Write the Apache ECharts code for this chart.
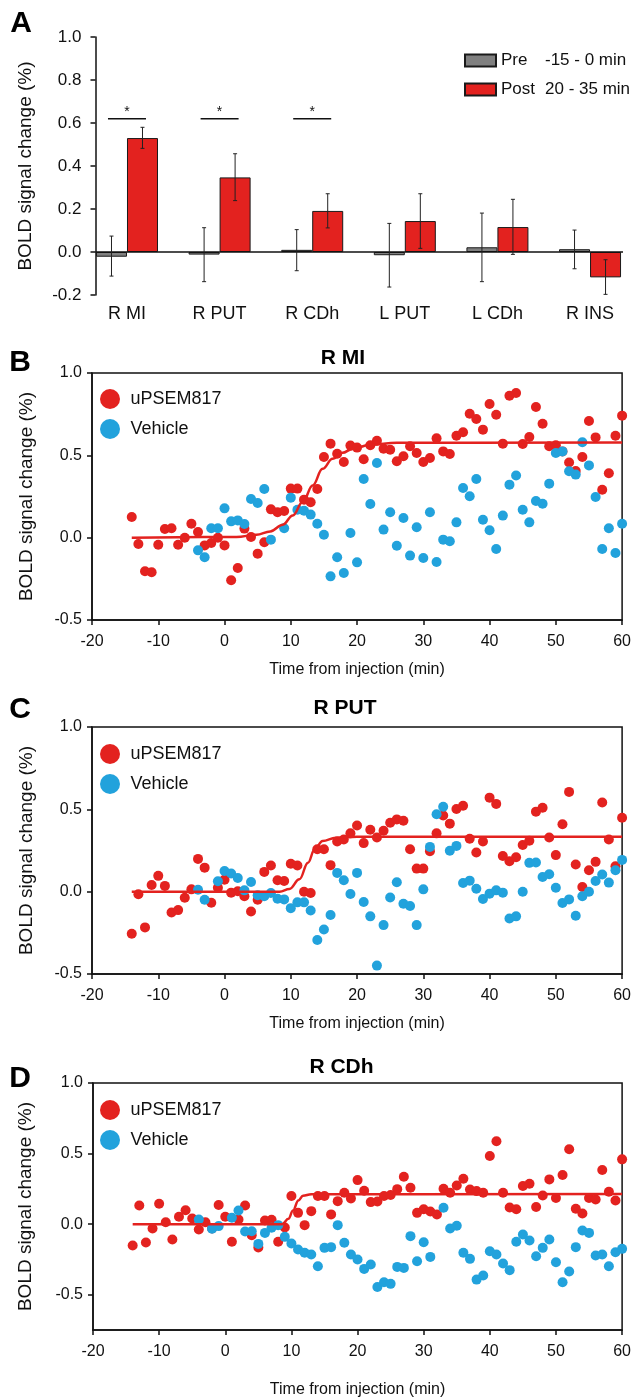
<!DOCTYPE html>
<html><head><meta charset="utf-8">
<script src="https://cdn.jsdelivr.net/npm/echarts@6/dist/echarts.min.js"></script>
<style>html,body{margin:0;padding:0;background:#fff}#c{width:634px;height:1400px}</style>
</head><body><div id="c"></div><script>
// ---------- Panel A data ----------
const regions = ['R MI', 'R PUT', 'R CDh', 'L PUT', 'L CDh', 'R INS'];
const preMean = [-0.022, -0.012, 0.010, -0.015, 0.022, 0.013];
const preLow  = [-0.112, -0.138, -0.087, -0.163, -0.138, -0.078];
const preHigh = [0.074, 0.113, 0.104, 0.133, 0.181, 0.102];
const postMean = [0.530, 0.347, 0.191, 0.144, 0.116, -0.118];
const postLow  = [0.482, 0.239, 0.112, 0.017, -0.011, -0.197];
const postHigh = [0.580, 0.457, 0.271, 0.271, 0.245, -0.036];
const sigRegions = [0, 1, 2];
const sigLevel = [0.62, 0.62, 0.62];

// ---------- Time courses ----------
const minutes = [-14,-13,-12,-11,-10,-9,-8,-7,-6,-5,-4,-3,-2,-1,0,1,2,3,4,5,6,7,8,9,10,11,12,13,14,15,16,17,18,19,20,21,22,23,24,25,26,27,28,29,30,31,32,33,34,35,36,37,38,39,40,41,42,43,44,45,46,47,48,49,50,51,52,53,54,55,56,57,58,59,60];

const rmiDrug = [0.126,-0.038,-0.204,-0.21,-0.043,0.053,0.057,-0.043,0.0,0.085,0.034,-0.047,-0.032,0.0,-0.047,-0.259,-0.184,0.055,0.004,-0.097,-0.028,0.172,0.154,0.162,0.298,0.298,0.231,0.215,0.296,0.49,0.571,0.51,0.46,0.559,0.547,0.476,0.561,0.589,0.54,0.534,0.464,0.494,0.555,0.514,0.46,0.484,0.603,0.524,0.508,0.619,0.64,0.753,0.721,0.656,0.812,0.747,0.571,0.862,0.879,0.569,0.611,0.794,0.692,0.555,0.561,0.524,0.457,0.405,0.49,0.709,0.609,0.291,0.391,0.619,0.741];
const rmiVeh = [null,null,null,null,null,null,null,null,null,null,-0.077,-0.119,0.057,0.057,0.178,0.099,0.105,0.083,0.235,0.211,0.296,-0.012,null,0.057,0.243,0.170,0.164,0.140,0.085,0.018,-0.235,-0.119,-0.215,0.028,-0.150,0.356,0.204,0.453,0.049,0.154,-0.049,0.119,-0.109,0.063,-0.123,0.154,-0.148,-0.012,-0.022,0.093,0.302,0.251,0.356,0.109,0.045,-0.069,0.134,0.322,0.377,0.170,0.093,0.223,0.206,0.328,0.514,0.524,0.403,0.383,0.579,0.439,0.247,-0.069,0.057,-0.093,0.085];
const rmiFit = [[-14,0],[1.8,0.004],[4.8,0.018],[6.9,0.038],[8.8,0.079],[10.3,0.135],[11.8,0.216],[13.3,0.317],[14.8,0.418],[16.3,0.479],[17.8,0.515],[19.3,0.539],[22,0.565],[26,0.576],[60,0.578]];

const putDrug = [-0.256,-0.016,-0.217,0.041,0.096,0.035,-0.126,-0.112,-0.037,0.014,0.199,0.146,-0.067,0.024,0.073,-0.006,0.002,-0.028,-0.120,-0.049,0.120,0.159,0.069,0.065,0.169,0.159,0.0,-0.008,0.258,0.258,0.161,0.305,0.317,0.354,0.402,0.295,0.376,0.329,0.370,0.419,0.439,0.431,0.258,0.140,0.140,0.246,0.354,0.463,0.413,0.502,0.522,0.321,0.238,0.305,0.571,0.533,0.217,0.185,0.209,0.283,0.309,0.486,0.510,0.329,0.222,0.409,0.606,0.165,0.028,0.130,0.181,0.541,0.317,0.154,0.449];
const putVeh = [null,null,null,null,null,null,null,null,null,null,0.012,-0.049,null,0.063,0.126,0.110,0.083,0.008,0.059,-0.022,-0.028,-0.008,-0.043,-0.047,-0.100,-0.065,-0.065,-0.114,-0.293,-0.230,-0.142,0.114,0.069,-0.014,0.114,-0.063,-0.150,-0.449,-0.203,-0.035,0.057,-0.073,-0.087,-0.203,0.014,0.272,0.470,0.516,0.248,0.278,0.053,0.067,0.018,-0.045,-0.012,0.008,-0.006,-0.163,-0.150,0.0,0.175,0.177,0.089,0.106,0.024,-0.069,-0.047,-0.146,-0.028,0.0,0.065,0.104,0.055,0.130,0.193];
const putFit = [[-14,0],[8.3,0],[9.8,0.016],[11.3,0.075],[12.6,0.176],[13.6,0.257],[14.8,0.308],[16.8,0.328],[20,0.333],[60,0.333]];

const cdhDrug = [-0.151,0.132,-0.130,-0.031,0.144,0.014,-0.109,0.052,0.099,0.040,-0.038,0.014,-0.031,0.135,0.052,-0.125,0.033,0.132,-0.078,-0.166,0.026,0.031,-0.125,-0.024,0.199,0.080,-0.007,0.092,0.199,0.199,0.069,0.163,0.222,0.182,0.312,0.237,0.156,0.161,0.199,0.206,0.248,0.336,0.258,0.080,0.106,0.090,0.069,0.251,0.222,0.274,0.322,0.246,0.234,0.222,0.483,0.587,0.222,0.118,0.106,0.270,0.286,0.121,0.203,0.317,0.185,0.348,0.530,0.109,0.076,0.185,0.175,0.383,0.229,0.168,0.459];
const cdhVeh = [null,null,null,null,null,null,null,null,null,null,0.033,null,-0.033,-0.014,null,0.045,0.097,-0.052,-0.050,-0.140,-0.062,-0.026,-0.007,-0.090,-0.137,-0.180,-0.203,-0.215,-0.298,-0.168,-0.163,-0.007,-0.132,-0.215,-0.251,-0.317,-0.286,-0.445,-0.412,-0.423,-0.303,-0.310,-0.085,-0.263,-0.128,-0.232,null,0.116,-0.031,-0.012,-0.203,-0.246,-0.393,-0.364,-0.192,-0.215,-0.279,-0.326,-0.125,-0.073,-0.116,-0.227,-0.168,-0.109,-0.270,-0.412,-0.336,-0.163,-0.045,-0.062,-0.222,-0.215,-0.298,-0.199,-0.175];
const cdhFit = [[-14,0],[8.6,0],[9.55,0.038],[10.25,0.097],[11.05,0.168],[11.75,0.201],[13,0.212],[60,0.213]];

const xTicksMin = [-20, 60, 10];
const yAxisName = 'BOLD signal change (%)';
const xAxisName = 'Time from injection (min)';

// ---------- styling ----------
const FONT = "'Liberation Sans', Arial, Helvetica, sans-serif";
const INK = '#111';
const RED = '#e3221f';
const BLUE = '#22a2dc';
const GRAY = '#808080';
const BAR_W = 31;

const chart = echarts.init(document.getElementById('c'), null, {renderer: 'canvas'});

function pairs(arr) {
  return minutes.map((m, i) => [m, arr[i]]).filter(d => d[1] !== null);
}

function renderErr(params, api) {
  const i = api.value(0), lo = api.value(1), hi = api.value(2), side = api.value(3);
  const p1 = api.coord([i, lo]), p2 = api.coord([i, hi]);
  const x = p1[0] + side * BAR_W / 2;
  const st = {stroke: '#222', lineWidth: 1};
  return {type: 'group', children: [
    {type: 'line', shape: {x1: x, y1: p1[1], x2: x, y2: p2[1]}, style: st},
    {type: 'line', shape: {x1: x - 2, y1: p1[1], x2: x + 2, y2: p1[1]}, style: st},
    {type: 'line', shape: {x1: x - 2, y1: p2[1], x2: x + 2, y2: p2[1]}, style: st}
  ]};
}
function renderSig(params, api) {
  const c = api.coord([api.value(0), api.value(1)]);
  return {type: 'group', children: [
    {type: 'line', shape: {x1: c[0] - 19, y1: c[1], x2: c[0] + 19, y2: c[1]}, style: {stroke: INK, lineWidth: 1.5}},
    {type: 'text', x: c[0], y: c[1] - 7, style: {text: '*', fontSize: 14, fontFamily: FONT, fill: INK,
      align: 'center', verticalAlign: 'middle', textAlign: 'center', textVerticalAlign: 'middle'}}
  ]};
}

const errData = [];
regions.forEach((r, i) => { errData.push([i, preLow[i], preHigh[i], -1]); errData.push([i, postLow[i], postHigh[i], 1]); });

const panels = [
  {top: 373, left: 92, width: 532, ymin: -0.5, drug: rmiDrug, veh: rmiVeh, fit: rmiFit, nameGapX: 42, nameGapY: 56, title: 'R MI', tx: 343, ty: 358, letter: 'B', ly: 363, legTop: 384},
  {top: 727, left: 92, width: 532, ymin: -0.5, drug: putDrug, veh: putVeh, fit: putFit, nameGapX: 42, nameGapY: 56, title: 'R PUT', tx: 345, ty: 708, letter: 'C', ly: 710, legTop: 739},
  {top: 1083, left: 93, width: 533, ymin: -0.75, drug: cdhDrug, veh: cdhVeh, fit: cdhFit, nameGapX: 52, nameGapY: 58, title: 'R CDh', tx: 341.5, ty: 1067, letter: 'D', ly: 1079, legTop: 1095}
];

const grid = [{left: 95.5, top: 37, width: 527.5, height: 258}];
const xAxis = [{
  gridIndex: 0, type: 'value', min: -0.34, max: 5.356,
  axisLine: {show: false, onZero: false}, axisTick: {show: false}, splitLine: {show: false},
  axisLabel: {customValues: [0, 1, 2, 3, 4, 5], formatter: v => regions[Math.round(v)],
    fontSize: 18, fontFamily: FONT, color: INK, margin: 10}
}];
const yAxis = [{
  gridIndex: 0, type: 'value', min: -0.2, max: 1.0, interval: 0.2,
  axisLine: {show: true, onZero: false, lineStyle: {color: INK, width: 1.5}},
  axisTick: {show: true, length: 5, lineStyle: {color: INK, width: 1.5}},
  splitLine: {show: false},
  axisLabel: {formatter: v => v.toFixed(1), fontSize: 17, fontFamily: FONT, color: INK, margin: 14},
  name: yAxisName, nameLocation: 'middle', nameGap: 60,
  nameTextStyle: {fontSize: 19, fontFamily: FONT, color: INK}
}];
const series = [
  {type: 'bar', name: 'Pre', xAxisIndex: 0, yAxisIndex: 0, barWidth: BAR_W, barGap: '0%',
   data: preMean.map((v, i) => [i, v]),
   itemStyle: {color: GRAY, borderColor: '#1a1a1a', borderWidth: 1},
   markLine: {silent: true, symbol: ['none', 'none'], label: {show: false},
     lineStyle: {color: INK, width: 1.5, type: 'solid'}, data: [{yAxis: 0}]}},
  {type: 'bar', name: 'Post', xAxisIndex: 0, yAxisIndex: 0, barWidth: BAR_W, barGap: '0%',
   data: postMean.map((v, i) => [i, v]),
   itemStyle: {color: RED, borderColor: '#1a1a1a', borderWidth: 1}},
  {type: 'custom', name: 'err', xAxisIndex: 0, yAxisIndex: 0, renderItem: renderErr,
   data: errData, encode: {x: 0, y: [1, 2]}, z: 5},
  {type: 'custom', name: 'sig', xAxisIndex: 0, yAxisIndex: 0, renderItem: renderSig,
   data: sigRegions.map((r, i) => [r, sigLevel[i]]), encode: {x: 0, y: 1}, z: 5}
];
const legend = [
  {data: [{name: 'Pre', icon: 'rect'}], left: 459, top: 47, itemWidth: 31, itemHeight: 12,
   formatter: () => '{a|Pre}{b|-15 - 0 min}',
   textStyle: {fontSize: 17, fontFamily: FONT, color: INK, rich: {a: {width: 44, fontSize: 17, fontFamily: FONT, color: INK}, b: {fontSize: 17, fontFamily: FONT, color: INK}}}},
  {data: [{name: 'Post', icon: 'rect'}], left: 459, top: 76, itemWidth: 31, itemHeight: 12,
   formatter: () => '{a|Post}{b|20 - 35 min}',
   textStyle: {fontSize: 17, fontFamily: FONT, color: INK, rich: {a: {width: 44, fontSize: 17, fontFamily: FONT, color: INK}, b: {fontSize: 17, fontFamily: FONT, color: INK}}}}
];
const graphic = [
  {type: 'text', x: 21, y: 24, style: {text: 'A', fontSize: 30, fontWeight: 'bold', fontFamily: FONT, fill: '#000', align: 'center', verticalAlign: 'middle', textAlign: 'center', textVerticalAlign: 'middle'}}
];

panels.forEach((p, k) => {
  const gi = k + 1;
  grid.push({left: p.left, top: p.top, width: p.width, height: 247, show: true, borderColor: INK, borderWidth: 1.5, backgroundColor: 'transparent'});
  xAxis.push({
    gridIndex: gi, type: 'value', min: xTicksMin[0], max: xTicksMin[1], interval: xTicksMin[2],
    axisLine: {show: true, onZero: false, lineStyle: {color: INK, width: 1.5}},
    axisTick: {show: true, length: 5, lineStyle: {color: INK, width: 1.5}},
    splitLine: {show: false},
    axisLabel: {fontSize: 16, fontFamily: FONT, color: INK, margin: 14},
    name: xAxisName, nameLocation: 'middle', nameGap: p.nameGapX,
    nameTextStyle: {fontSize: 16, fontFamily: FONT, color: INK}
  });
  const yA = {
    gridIndex: gi, type: 'value', min: p.ymin, max: 1.0,
    axisLine: {show: true, onZero: false, lineStyle: {color: INK, width: 1.5}},
    axisTick: {show: true, length: 5, lineStyle: {color: INK, width: 1.5}},
    splitLine: {show: false},
    axisLabel: {formatter: v => v.toFixed(1), fontSize: 16, fontFamily: FONT, color: INK, margin: 10},
    name: yAxisName, nameLocation: 'middle', nameGap: p.nameGapY,
    nameTextStyle: {fontSize: 19, fontFamily: FONT, color: INK}
  };
  if (p.ymin === -0.5) { yA.interval = 0.5; }
  else { yA.axisLabel.customValues = [-0.5, 0, 0.5, 1.0]; yA.axisTick.customValues = [-0.5, 0, 0.5, 1.0]; }
  yAxis.push(yA);
  series.push({type: 'scatter', name: 'uPSEM817', xAxisIndex: gi, yAxisIndex: gi, symbolSize: 10,
    data: pairs(p.drug), itemStyle: {color: RED, opacity: 1}, z: 2});
  series.push({type: 'scatter', name: 'Vehicle', xAxisIndex: gi, yAxisIndex: gi, symbolSize: 10,
    data: pairs(p.veh), itemStyle: {color: BLUE, opacity: 1}, z: 3});
  series.push({type: 'line', name: 'fit', xAxisIndex: gi, yAxisIndex: gi, data: p.fit,
    smooth: 0.4, smoothMonotone: 'x', showSymbol: false, symbol: 'none',
    lineStyle: {color: RED, width: 2.5}, z: 4});
  legend.push({data: [{name: 'uPSEM817', icon: 'circle'}, {name: 'Vehicle', icon: 'circle'}],
    orient: 'vertical', left: 95, top: p.legTop, itemWidth: 31, itemHeight: 20, itemGap: 10,
    textStyle: {fontSize: 18, fontFamily: FONT, color: INK}});
  graphic.push({type: 'text', x: p.tx, y: p.ty, style: {text: p.title, fontSize: 21, fontWeight: 'bold', fontFamily: FONT, fill: '#000', align: 'center', verticalAlign: 'middle', textAlign: 'center', textVerticalAlign: 'middle'}});
  graphic.push({type: 'text', x: 20, y: p.ly, style: {text: p.letter, fontSize: 30, fontWeight: 'bold', fontFamily: FONT, fill: '#000', align: 'center', verticalAlign: 'middle', textAlign: 'center', textVerticalAlign: 'middle'}});
});

chart.setOption({
  animation: false,
  backgroundColor: '#fff',
  textStyle: {fontFamily: FONT},
  grid, xAxis, yAxis, series, legend, graphic
});
</script></body></html>
